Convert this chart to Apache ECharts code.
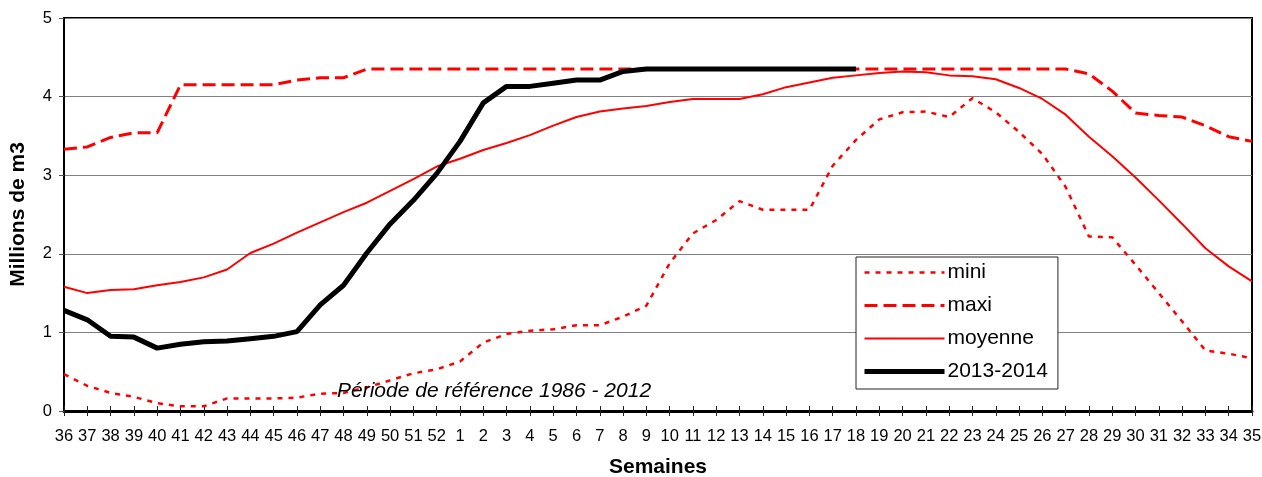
<!DOCTYPE html>
<html>
<head>
<meta charset="utf-8">
<script src="https://cdn.jsdelivr.net/npm/echarts@6/dist/echarts.min.js"></script>
<style>
  html, body { margin: 0; padding: 0; background: #fff; }
  #chart { width: 1262px; height: 477px; }
</style>
</head>
<body>
<div id="chart"></div>
<script>
// Weeks of the hydrological year, from week 36 to week 35 of the next year
const weeks = [
  '36','37','38','39','40','41','42','43','44','45','46','47','48','49','50','51','52',
  '1','2','3','4','5','6','7','8','9','10','11','12','13','14','15','16','17','18',
  '19','20','21','22','23','24','25','26','27','28','29','30','31','32','33','34','35'
];

// Reference period 1986 - 2012 (millions of m3)
const mini = [
  0.47, 0.32, 0.23, 0.18, 0.10, 0.06, 0.06, 0.16, 0.16, 0.16, 0.17, 0.22, 0.23, 0.30, 0.39, 0.48, 0.53,
  0.63, 0.87, 0.98, 1.02, 1.04, 1.09, 1.09, 1.20, 1.34, 1.88, 2.26, 2.43, 2.67, 2.56, 2.56, 2.56, 3.12, 3.45,
  3.71, 3.80, 3.81, 3.74, 3.98, 3.80, 3.55, 3.27, 2.85, 2.22, 2.21, 1.86, 1.50, 1.14, 0.77, 0.73, 0.67
];
const maxi = [
  3.33, 3.36, 3.48, 3.54, 3.54, 4.15, 4.15, 4.15, 4.15, 4.15, 4.21, 4.24, 4.24, 4.35, 4.35, 4.35, 4.35,
  4.35, 4.35, 4.35, 4.35, 4.35, 4.35, 4.35, 4.35, 4.35, 4.35, 4.35, 4.35, 4.35, 4.35, 4.35, 4.35, 4.35, 4.35,
  4.35, 4.35, 4.35, 4.35, 4.35, 4.35, 4.35, 4.35, 4.35, 4.29, 4.07, 3.79, 3.76, 3.74, 3.63, 3.49, 3.43
];
const moyenne = [
  1.58, 1.50, 1.54, 1.55, 1.60, 1.64, 1.70, 1.80, 2.01, 2.13, 2.27, 2.40, 2.53, 2.65, 2.80, 2.95, 3.11,
  3.21, 3.32, 3.41, 3.51, 3.63, 3.74, 3.81, 3.85, 3.88, 3.93, 3.97, 3.97, 3.97, 4.03, 4.12, 4.18, 4.24, 4.27,
  4.30, 4.32, 4.31, 4.27, 4.26, 4.22, 4.11, 3.97, 3.77, 3.49, 3.24, 2.97, 2.68, 2.38, 2.07, 1.84, 1.65
];
// Current season 2013-2014 (known up to week 18)
const saison = [
  1.28, 1.16, 0.95, 0.94, 0.80, 0.85, 0.88, 0.89, 0.92, 0.95, 1.01, 1.35, 1.60, 2.01, 2.38, 2.68, 3.02,
  3.43, 3.92, 4.13, 4.13, 4.17, 4.21, 4.21, 4.32, 4.35, 4.35, 4.35, 4.35, 4.35, 4.35, 4.35, 4.35, 4.35, 4.35,
  null, null, null, null, null, null, null, null, null, null, null, null, null, null, null, null, null
];
const yTicks = [0, 1, 2, 3, 4, 5];

const FONT = '"Liberation Sans", Arial, sans-serif';
const RED = '#ff0000';

// Line styles shared by the series and their legend entries
const styles = {
  mini: { color: RED, width: 2.5, type: [5, 6], cap: 'butt' },
  maxi: { color: RED, width: 3, type: [13, 6], cap: 'butt' },
  moyenne: { color: RED, width: 2, type: 'solid' },
  '2013-2014': { color: '#000', width: 5, type: 'solid' }
};

const chart = echarts.init(document.getElementById('chart'), null, { renderer: 'canvas' });

const baseX = {
  type: 'category',
  data: weeks,
  boundaryGap: false,
  position: 'bottom'
};

chart.setOption({
  animation: false,
  backgroundColor: '#ffffff',
  textStyle: { fontFamily: FONT },
  title: {
    text: 'Période de référence 1986 - 2012',
    left: 337,
    top: 381,
    padding: 0,
    textStyle: {
      fontFamily: FONT,
      fontSize: 21,
      fontStyle: 'italic',
      fontWeight: 'normal',
      color: '#000'
    }
  },
  legend: {
    orient: 'vertical',
    left: 856,
    top: 257,
    padding: [5, 10, 7, 6],
    itemWidth: 80,
    itemHeight: 14,
    itemGap: 12,
    backgroundColor: '#ffffff',
    borderColor: '#222222',
    borderWidth: 1,
    borderRadius: 0,
    itemStyle: { opacity: 0 },
    textStyle: { fontFamily: FONT, fontSize: 21, color: '#000', padding: [0, 0, 0, -2] },
    data: ['mini', 'maxi', 'moyenne', '2013-2014'].map(n => ({
      name: n,
      lineStyle: Object.assign({}, styles[n])
    }))
  },
  grid: {
    left: 64,
    right: 10,
    top: 18,
    bottom: 66,
    containLabel: false,
    outerBoundsMode: 'none',
    show: true,
    borderColor: '#000',
    borderWidth: 2,
    backgroundColor: 'transparent'
  },
  xAxis: [
    Object.assign({}, baseX, {
      name: 'Semaines',
      nameLocation: 'middle',
      nameGap: 46,
      nameTextStyle: { fontFamily: FONT, fontSize: 21, fontWeight: 'bold', color: '#000' },
      axisLine: { show: true, lineStyle: { color: '#000', width: 3 } },
      axisTick: { show: true, interval: 0, length: 5, lineStyle: { color: '#222', width: 1 } },
      axisLabel: { interval: 0, margin: 17, fontFamily: FONT, fontSize: 16.5, color: '#000' },
      splitLine: { show: false }
    }),
    Object.assign({}, baseX, {
      axisLine: { show: false },
      axisTick: { show: true, inside: true, interval: 0, length: 5, lineStyle: { color: '#222', width: 1 } },
      axisLabel: { show: false },
      splitLine: { show: false }
    })
  ],
  yAxis: {
    type: 'value',
    min: 0,
    max: 5,
    interval: 1,
    name: 'Millions de m3',
    nameLocation: 'middle',
    nameRotate: 90,
    nameGap: 35,
    nameTextStyle: { fontFamily: FONT, fontSize: 21, fontWeight: 'bold', color: '#000' },
    axisLine: { show: true, lineStyle: { color: '#000', width: 2 } },
    axisTick: { show: true, length: 5, lineStyle: { color: '#555', width: 1 } },
    axisLabel: {
      margin: 12,
      fontFamily: FONT,
      fontSize: 16.5,
      color: '#000',
      formatter: v => (yTicks.includes(v) ? String(v) : '')
    },
    splitLine: { show: true, lineStyle: { color: '#808080', width: 1 } }
  },
  series: [
    {
      name: 'mini',
      type: 'line',
      data: mini,
      symbol: 'none',
      lineStyle: styles.mini,
      itemStyle: { color: RED },
      z: 2
    },
    {
      name: 'maxi',
      type: 'line',
      data: maxi,
      symbol: 'none',
      lineStyle: styles.maxi,
      itemStyle: { color: RED },
      z: 2
    },
    {
      name: 'moyenne',
      type: 'line',
      data: moyenne,
      symbol: 'none',
      lineStyle: styles.moyenne,
      itemStyle: { color: RED },
      z: 3
    },
    {
      name: '2013-2014',
      type: 'line',
      data: saison,
      symbol: 'none',
      connectNulls: false,
      lineStyle: styles['2013-2014'],
      itemStyle: { color: '#000' },
      z: 4
    }
  ]
});
</script>
</body>
</html>
